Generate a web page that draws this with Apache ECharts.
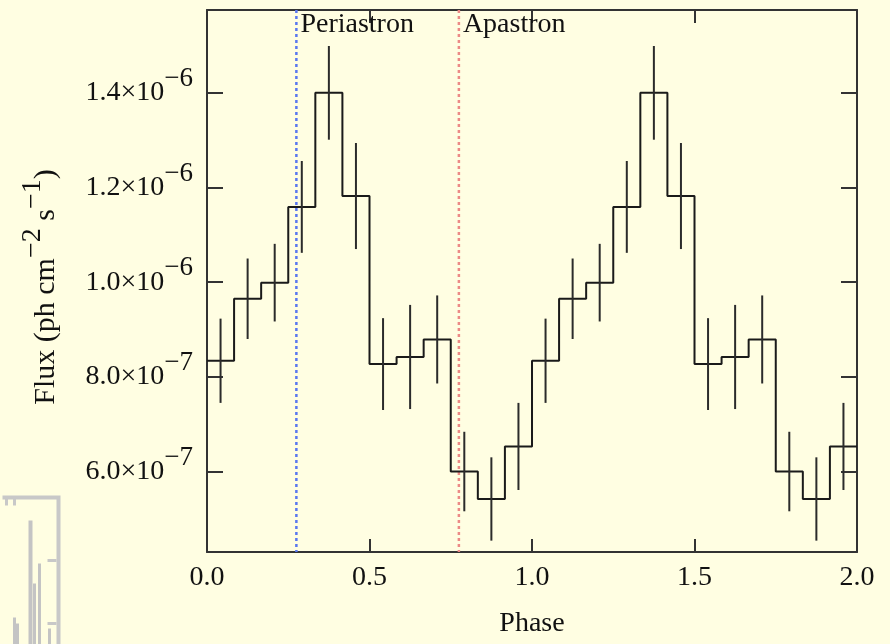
<!DOCTYPE html>
<html>
<head>
<meta charset="utf-8">
<script src="https://cdn.jsdelivr.net/npm/echarts@6/dist/echarts.min.js"></script>
<style>
  html, body { margin: 0; padding: 0; background: #fffee2; }
  #chart { width: 890px; height: 644px; }
</style>
</head>
<body>
<div id="chart"></div>
<script>
// phase bin centres (two cycles, 12 bins per cycle)
var phase = [0.0417, 0.125, 0.2083, 0.2917, 0.375, 0.4583, 0.5417, 0.625, 0.7083, 0.7917, 0.875, 0.9583,
             1.0417, 1.125, 1.2083, 1.2917, 1.375, 1.4583, 1.5417, 1.625, 1.7083, 1.7917, 1.875, 1.9583];
var flux = [8.34e-7, 9.65e-7, 9.99e-7, 1.159e-6, 1.400e-6, 1.182e-6, 8.27e-7, 8.42e-7, 8.79e-7, 6.00e-7, 5.42e-7, 6.53e-7,
            8.34e-7, 9.65e-7, 9.99e-7, 1.159e-6, 1.400e-6, 1.182e-6, 8.27e-7, 8.42e-7, 8.79e-7, 6.00e-7, 5.42e-7, 6.53e-7];
var fluxErr = [0.89e-7, 0.85e-7, 0.82e-7, 0.97e-7, 0.99e-7, 1.12e-7, 0.97e-7, 1.10e-7, 0.93e-7, 0.84e-7, 0.88e-7, 0.92e-7,
               0.89e-7, 0.85e-7, 0.82e-7, 0.97e-7, 0.99e-7, 1.12e-7, 0.97e-7, 1.10e-7, 0.93e-7, 0.84e-7, 0.88e-7, 0.92e-7];
var binWidth = 1 / 12;
var yTicks = [6e-7, 8e-7, 1e-6, 1.2e-6, 1.4e-6];
var orbitNames = ['Periastron', 'Apastron'];
var orbitPhase = [0.275, 0.775];
var orbitColors = ['#5a78f0', '#ec8a86'];

var serif = '"Liberation Serif", "DejaVu Serif", serif';

// histogram outline: left edge of every bin + right edge of the last one
var stepData = phase.map(function (p, i) { return [p - binWidth / 2, flux[i]]; });
stepData.push([phase[phase.length - 1] + binWidth / 2, flux[flux.length - 1]]);

var errData = phase.map(function (p, i) { return [p, flux[i] - fluxErr[i], flux[i] + fluxErr[i]]; });
var orbitData = orbitPhase.map(function (p, i) { return { name: orbitNames[i], value: [p, i] }; });

function sciLabel(v) {
  var e = Math.floor(Math.log10(v) + 1e-9);
  var m = (v / Math.pow(10, e)).toFixed(1);
  return '{b|' + m + '\u00d710}{s|\u2212' + Math.abs(e) + '}';
}

var chart = echarts.init(document.getElementById('chart'));
var option = {
  backgroundColor: '#fffee2',
  animation: false,
  grid: { left: 207, top: 10, right: 33, bottom: 92, outerBoundsMode: 'none', containLabel: false },
  xAxis: [{
    type: 'value', min: 0, max: 2, interval: 0.5, position: 'bottom',
    name: 'Phase', nameLocation: 'middle', nameGap: 58,
    nameTextStyle: { fontFamily: serif, fontSize: 28, color: '#111' },
    axisLine: { show: true, onZero: false, lineStyle: { color: '#333', width: 2 } },
    axisTick: { inside: true, length: 13, lineStyle: { color: '#333', width: 2 } },
    axisLabel: { margin: 12, fontFamily: serif, fontSize: 28, color: '#111',
      formatter: function (v) { return v.toFixed(1); } },
    splitLine: { show: false }
  }, {
    type: 'value', min: 0, max: 2, interval: 0.5, position: 'top',
    axisLine: { show: true, onZero: false, lineStyle: { color: '#333', width: 2 } },
    axisTick: { inside: true, length: 13, lineStyle: { color: '#333', width: 2 } },
    axisLabel: { show: false },
    splitLine: { show: false }
  }],
  yAxis: [{
    type: 'value', min: 4.3e-7, max: 1.575e-6, position: 'left',
    name: '{b|Flux (ph cm}{s|\u22122}{b| s}{s|\u22121}{b|)}',
    nameLocation: 'middle', nameRotate: 90, nameGap: 134,
    nameTextStyle: {
      padding: [0, 12, 0, 0],
      rich: {
        b: { fontFamily: serif, fontSize: 30, color: '#111' },
        s: { fontFamily: serif, fontSize: 28, color: '#111', padding: [0, 0, 26, 0] }
      }
    },
    axisLine: { show: true, onZero: false, lineStyle: { color: '#333', width: 2 } },
    axisTick: { inside: true, length: 16, customValues: yTicks, lineStyle: { color: '#333', width: 2 } },
    axisLabel: {
      margin: 14, customValues: yTicks, formatter: sciLabel,
      rich: {
        b: { fontFamily: serif, fontSize: 28, color: '#111' },
        s: { fontFamily: serif, fontSize: 27, color: '#111', padding: [0, 0, 28, 0] }
      }
    },
    splitLine: { show: false }
  }, {
    type: 'value', min: 4.3e-7, max: 1.575e-6, position: 'right',
    axisLine: { show: true, onZero: false, lineStyle: { color: '#333', width: 2 } },
    axisTick: { inside: true, length: 16, customValues: yTicks, lineStyle: { color: '#333', width: 2 } },
    axisLabel: { show: false },
    splitLine: { show: false }
  }],
  series: [{
    // orbital phase markers
    type: 'custom',
    data: orbitData,
    renderItem: function (params, api) {
      var cs = params.coordSys;
      var x = api.coord([api.value(0), 1e-6])[0];
      var idx = api.value(1);
      return {
        type: 'group',
        children: [{
          type: 'line',
          shape: { x1: x, y1: cs.y, x2: x, y2: cs.y + cs.height },
          style: { stroke: orbitColors[idx], lineWidth: 2.5, lineDash: [3, 3] }
        }, {
          type: 'text',
          x: x + 4, y: cs.y + 1,
          style: { text: orbitNames[idx], fill: '#111', fontFamily: serif, fontSize: 28, verticalAlign: 'top' }
        }]
      };
    },
    z: 1
  }, {
    type: 'line',
    step: 'end',
    data: stepData,
    symbol: 'none',
    lineStyle: { color: '#1a1a1a', width: 2 },
    z: 3
  }, {
    // error bars
    type: 'custom',
    data: errData,
    renderItem: function (params, api) {
      var lo = api.coord([api.value(0), api.value(1)]);
      var hi = api.coord([api.value(0), api.value(2)]);
      return {
        type: 'line',
        shape: { x1: lo[0], y1: lo[1], x2: hi[0], y2: hi[1] },
        style: { stroke: '#2b2b2b', lineWidth: 2 }
      };
    },
    z: 4
  }],
  graphic: [{
    // greyed fragment of a neighbouring figure at the bottom left
    type: 'group', left: 0, top: 495, silent: true,
    children: [
      { type: 'polyline', shape: { points: [[0, 2], [56, 2], [56, 150]] }, style: { stroke: '#c8c8c8', lineWidth: 4, fill: null } },
      { type: 'line', shape: { x1: 4, y1: 2, x2: 4, y2: 10 }, style: { stroke: '#c8c8c8', lineWidth: 3 } },
      { type: 'line', shape: { x1: 12, y1: 2, x2: 12, y2: 10 }, style: { stroke: '#c8c8c8', lineWidth: 3 } },
      { type: 'line', shape: { x1: 28, y1: 25, x2: 28, y2: 150 }, style: { stroke: '#c4c4c4', lineWidth: 4 } },
      { type: 'line', shape: { x1: 32, y1: 88, x2: 32, y2: 150 }, style: { stroke: '#c4c4c4', lineWidth: 3 } },
      { type: 'line', shape: { x1: 37, y1: 68, x2: 37, y2: 150 }, style: { stroke: '#c4c4c4', lineWidth: 3 } },
      { type: 'line', shape: { x1: 45, y1: 65, x2: 54, y2: 65 }, style: { stroke: '#c8c8c8', lineWidth: 3 } },
      { type: 'line', shape: { x1: 45, y1: 128, x2: 54, y2: 128 }, style: { stroke: '#c8c8c8', lineWidth: 3 } },
      { type: 'line', shape: { x1: 12, y1: 122, x2: 12, y2: 150 }, style: { stroke: '#c4c4c4', lineWidth: 3 } },
      { type: 'line', shape: { x1: 15, y1: 128, x2: 15, y2: 150 }, style: { stroke: '#c4c4c4', lineWidth: 3 } },
      { type: 'line', shape: { x1: 47, y1: 133, x2: 47, y2: 150 }, style: { stroke: '#c4c4c4', lineWidth: 3 } }
    ]
  }]
};
chart.setOption(option);
</script>
</body>
</html>
